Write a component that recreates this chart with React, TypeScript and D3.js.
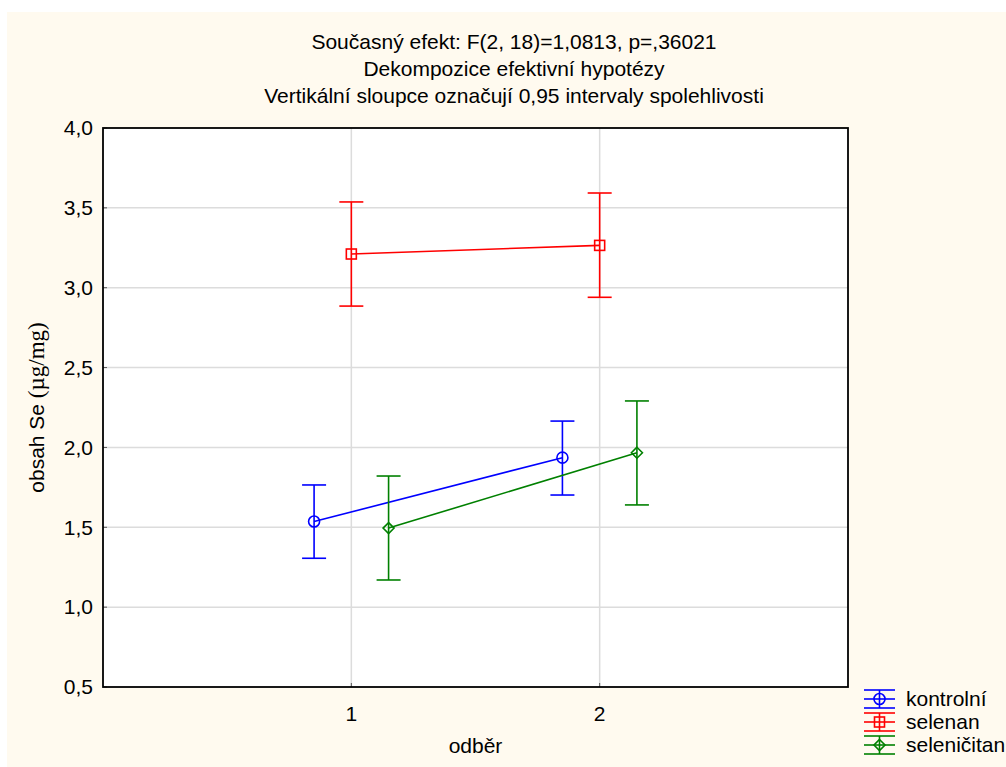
import React from "react";
import * as d3 from "d3";

// Sampling occasions on the x axis
const categories = [1, 2];
const seriesNames = ["kontrolní", "selenan", "seleničitan"];
const seriesColors = ["#0000ff", "#ff0000", "#008000"];

// Means and 0.95 confidence limits per group, per occasion
const meanKontrolni = [1.536, 1.936];
const lowKontrolni = [1.306, 1.702];
const highKontrolni = [1.765, 2.165];

const meanSelenan = [3.211, 3.265];
const lowSelenan = [2.885, 2.94];
const highSelenan = [3.537, 3.593];

const meanSelenicitan = [1.495, 1.967];
const lowSelenicitan = [1.17, 1.64];
const highSelenicitan = [1.821, 2.291];

const yTicks = [0.5, 1.0, 1.5, 2.0, 2.5, 3.0, 3.5, 4.0];

const titleLines = [
  "Současný efekt: F(2, 18)=1,0813, p=,36021",
  "Dekompozice efektivní hypotézy",
  "Vertikální sloupce označují 0,95 intervaly spolehlivosti",
];

const W = 1006;
const H = 767;
const plot = { left: 103, right: 848, top: 128, bottom: 687 };
const FONT = "'Liberation Sans', Arial, sans-serif";
const FS = 21;

const series = [
  { name: seriesNames[0], color: seriesColors[0], mean: meanKontrolni, low: lowKontrolni, high: highKontrolni, shift: -0.15, marker: "circle" },
  { name: seriesNames[1], color: seriesColors[1], mean: meanSelenan, low: lowSelenan, high: highSelenan, shift: 0, marker: "square" },
  { name: seriesNames[2], color: seriesColors[2], mean: meanSelenicitan, low: lowSelenicitan, high: highSelenicitan, shift: 0.15, marker: "diamond" },
];

const x = d3.scaleLinear().domain([0, 3]).range([plot.left, plot.right]);
const y = d3.scaleLinear().domain([0.5, 4.0]).range([plot.bottom, plot.top]);
const fmt = (v: number) => d3.format(".1f")(v).replace(".", ",");

function Marker({ kind, cx, cy, color }: { kind: string; cx: number; cy: number; color: string }) {
  if (kind === "circle") {
    return <circle cx={cx} cy={cy} r={5.5} fill="none" stroke={color} strokeWidth={1.6} />;
  }
  if (kind === "square") {
    return <rect x={cx - 5} y={cy - 5} width={10} height={10} fill="none" stroke={color} strokeWidth={1.6} />;
  }
  const s = 5.5;
  return (
    <path
      d={`M${cx},${cy - s}L${cx + s},${cy}L${cx},${cy + s}L${cx - s},${cy}Z`}
      fill="none"
      stroke={color}
      strokeWidth={1.6}
    />
  );
}

export default function App() {
  const line = d3
    .line<[number, number]>()
    .x((d) => d[0])
    .y((d) => d[1]);

  const capHalf = 12;

  return (
    <svg
      width={W}
      height={H}
      style={{ position: "absolute", left: 0, top: 0 }}
      fontFamily={FONT}
    >
      <rect x={0} y={0} width={W} height={H} fill="#ffffff" />
      <rect x={7} y={12} width={W - 7} height={H - 12} fill="#fffaef" />

      {/* titles */}
      {titleLines.map((t, i) => (
        <text key={t} x={514} y={49 + i * 27} textAnchor="middle" fontSize={FS} fill="#000">
          {t}
        </text>
      ))}

      {/* plot area */}
      <rect x={plot.left} y={plot.top} width={plot.right - plot.left} height={plot.bottom - plot.top} fill="#ffffff" />

      {/* grid */}
      {yTicks.slice(1, -1).map((v) => (
        <line key={"gy" + v} x1={plot.left} x2={plot.right} y1={y(v)} y2={y(v)} stroke="#dcdcdc" strokeWidth={1.5} />
      ))}
      {categories.map((c) => (
        <line key={"gx" + c} x1={x(c)} x2={x(c)} y1={plot.top} y2={plot.bottom} stroke="#dcdcdc" strokeWidth={1.5} />
      ))}

      {/* ticks */}
      {yTicks.map((v) => (
        <g key={"ty" + v}>
          <line x1={plot.left} x2={plot.left + 4} y1={y(v)} y2={y(v)} stroke="#555" strokeWidth={1} />
          <text x={plot.left - 10} y={y(v)} dy="0.35em" textAnchor="end" fontSize={FS}>
            {fmt(v)}
          </text>
        </g>
      ))}
      {categories.map((c) => (
        <g key={"tx" + c}>
          <line x1={x(c)} x2={x(c)} y1={plot.bottom} y2={plot.bottom - 4} stroke="#555" strokeWidth={1} />
          <text x={x(c)} y={plot.bottom + 34} textAnchor="middle" fontSize={FS}>
            {c}
          </text>
        </g>
      ))}

      {/* frame */}
      <rect
        x={plot.left}
        y={plot.top}
        width={plot.right - plot.left}
        height={plot.bottom - plot.top}
        fill="none"
        stroke="#000"
        strokeWidth={1.8}
      />

      {/* axis titles */}
      <text x={x(1.5)} y={753} textAnchor="middle" fontSize={FS}>
        odběr
      </text>
      <text transform={`translate(44,${(plot.top + plot.bottom) / 2}) rotate(-90)`} textAnchor="middle" fontSize={FS}>
        <tspan>obsah Se </tspan>
        <tspan fontFamily="'Liberation Serif', 'Times New Roman', serif" fontSize={23}>(µg/mg)</tspan>
      </text>

      {/* series */}
      {series.map((s) => {
        const pts: [number, number][] = categories.map((c, i) => [x(c + s.shift), y(s.mean[i])]);
        return (
          <g key={s.name}>
            <path d={line(pts) || ""} fill="none" stroke={s.color} strokeWidth={1.6} />
            {categories.map((c, i) => {
              const cx = x(c + s.shift);
              const yl = y(s.low[i]);
              const yh = y(s.high[i]);
              return (
                <g key={c}>
                  <line x1={cx} x2={cx} y1={yl} y2={yh} stroke={s.color} strokeWidth={1.6} />
                  <line x1={cx - capHalf} x2={cx + capHalf} y1={yl} y2={yl} stroke={s.color} strokeWidth={1.6} />
                  <line x1={cx - capHalf} x2={cx + capHalf} y1={yh} y2={yh} stroke={s.color} strokeWidth={1.6} />
                  <Marker kind={s.marker} cx={cx} cy={y(s.mean[i])} color={s.color} />
                </g>
              );
            })}
          </g>
        );
      })}

      {/* legend */}
      {series.map((s, i) => {
        const cy = 699 + i * 23;
        const x0 = 864;
        const x1 = 895;
        const mx = (x0 + x1) / 2;
        return (
          <g key={"lg" + s.name}>
            <line x1={x0} x2={x1} y1={cy - 9} y2={cy - 9} stroke={s.color} strokeWidth={1.6} />
            <line x1={x0} x2={x1} y1={cy} y2={cy} stroke={s.color} strokeWidth={1.6} />
            <line x1={x0} x2={x1} y1={cy + 9} y2={cy + 9} stroke={s.color} strokeWidth={1.6} />
            <line x1={mx} x2={mx} y1={cy - 9} y2={cy + 9} stroke={s.color} strokeWidth={1.6} />
            <Marker kind={s.marker} cx={mx} cy={cy} color={s.color} />
            <text x={906} y={cy} dy="0.35em" fontSize={FS}>
              {s.name}
            </text>
          </g>
        );
      })}
    </svg>
  );
}
